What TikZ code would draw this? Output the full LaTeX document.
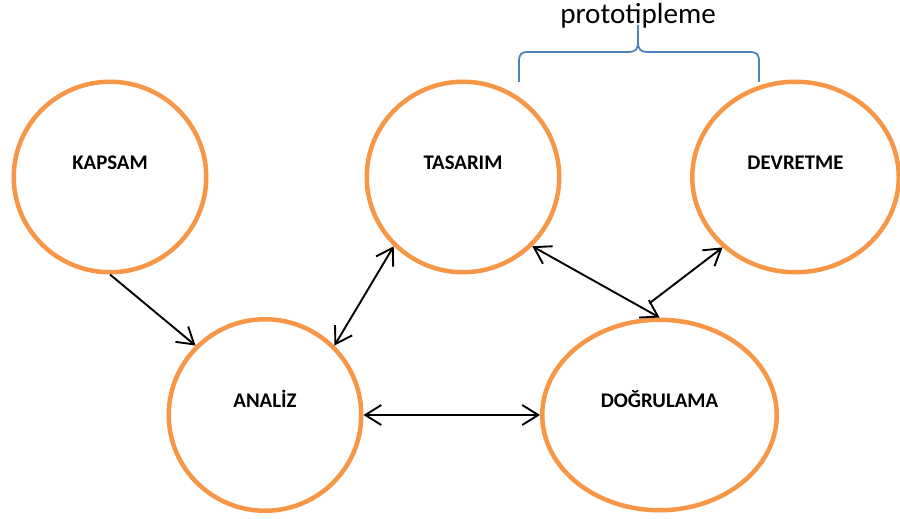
\documentclass[tikz,border=0pt]{standalone}
\usepackage{fontspec}
\setmainfont{Carlito}
\usetikzlibrary{arrows.meta,shapes.geometric}
\definecolor{phaseorange}{HTML}{F79646}
\definecolor{braceblue}{HTML}{4F81BD}
\tikzset{phase/.style={ellipse,draw=phaseorange,line width=4.5pt,
  minimum width=192.5pt,minimum height=190.5pt,
  font=\fontsize{20.8}{25}\selectfont\bfseries,
  text height=0pt,text depth=15pt}}
\tikzset{link/.style={line width=1.9pt}}

\begin{document}
\begin{tikzpicture}[x=1pt,y=-1pt,>={Straight Barb[length=16pt,width=20pt]}]
\useasboundingbox (0,0) rectangle (900,519);
% phases
\node (kapsam) [phase] at (110,177) {KAPSAM};
\node (tasarim) [phase] at (463,177) {TASARIM};
\node (devretme) [phase,minimum width=206.5pt] at (795.5,177) {DEVRETME};
\node (analiz) [phase,minimum height=191.5pt] at (265,415) {ANALİZ};
\node (dogrulama) [phase,minimum width=234.5pt] at (659.5,415) {DOĞRULAMA};
%
\path[->,link] (kapsam.south) edge (analiz.135);
\path[<->,link] (analiz.45) edge (tasarim.225);
\path[<->,link] (tasarim.-45) edge (dogrulama.north);
\path[->,link,shorten <=30pt] (dogrulama.110) edge (devretme.224);
\path[<->,link] (analiz.east) edge (dogrulama.west);
% brace over tasarim .. devretme
\node (proto) [anchor=base,font=\fontsize{29.1}{35}\selectfont] at (638,23.5) {prototipleme};
\draw[braceblue,line width=1.8pt] (519,82) -- (519,62)
  .. controls (519,54) and (521,52) .. (529,52) -- (628,52)
  .. controls (635,52) and (638,50) .. (638,42) -- (638,25);
\draw[braceblue,line width=1.8pt] (759,82) -- (759,62)
  .. controls (759,54) and (757,52) .. (749,52) -- (648,52)
  .. controls (641,52) and (638,50) .. (638,42);
\end{tikzpicture}
\end{document}
